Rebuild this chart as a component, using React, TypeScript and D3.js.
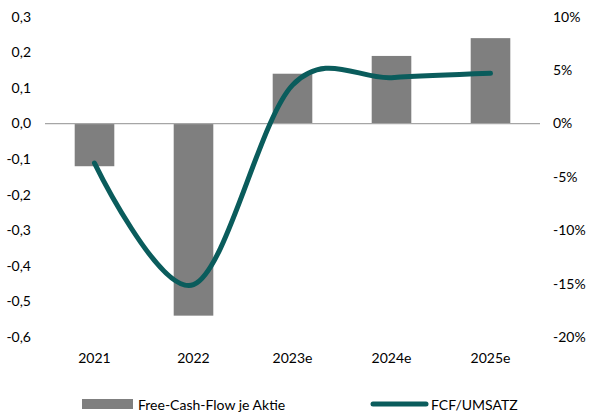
import React from "react";
import * as d3 from "d3";

const categories = ["2021", "2022", "2023e", "2024e", "2025e"];
const fcfPerShare = [-0.12, -0.54, 0.14, 0.19, 0.24];
const fcfToSales = [-0.037, -0.151, 0.036, 0.043, 0.047];
const leftTicks = [0.3, 0.2, 0.1, 0.0, -0.1, -0.2, -0.3, -0.4, -0.5, -0.6];
const rightTicks = [0.1, 0.05, 0, -0.05, -0.1, -0.15, -0.2];
const seriesNames = ["Free-Cash-Flow je Aktie", "FCF/UMSATZ"];

const W = 589;
const H = 416;
const FONT = "Lato, 'Liberation Sans', sans-serif";
const FS = 14;
const BAR = "#7f7f7f";
const LINE = "#0a5c5c";

export default function App() {
  const x = d3.scaleBand<string>().domain(categories).range([45, 540]).paddingInner(0.6).paddingOuter(0.3);
  const yL = d3.scaleLinear().domain([-0.6, 0.3]).range([337, 16.8]);
  const yR = d3.scaleLinear().domain([-0.2, 0.1]).range([337, 16.8]);
  const cx = (c: string) => (x(c) as number) + x.bandwidth() / 2;
  const line = d3
    .line<number>()
    .x((_, i) => cx(categories[i]))
    .y((d) => yR(d))
    .curve(d3.curveCardinal.tension(0));
  const fmtL = (v: number) => v.toFixed(1).replace(".", ",");
  const fmtR = (v: number) => `${Math.round(v * 100)}%`;

  return (
    <svg width={W} height={H} style={{ position: "absolute", left: 0, top: 0, background: "#fff" }}>
      {categories.map((c, i) => {
        const v = fcfPerShare[i];
        return (
          <rect
            key={c}
            x={x(c)}
            y={yL(Math.max(0, v))}
            width={x.bandwidth()}
            height={Math.abs(yL(v) - yL(0))}
            fill={BAR}
          />
        );
      })}
      <line x1={45} x2={540} y1={yL(0)} y2={yL(0)} stroke="#a6a6a6" strokeWidth={1.3} />
      <path d={line(fcfToSales) || ""} fill="none" stroke={LINE} strokeWidth={5} strokeLinecap="round" />
      {leftTicks.map((t) => (
        <text key={t} x={31} y={yL(t)} dy="0.35em" textAnchor="end" fontFamily={FONT} fontSize={FS} fill="#000">
          {fmtL(t)}
        </text>
      ))}
      {rightTicks.map((t) => (
        <text key={t} x={553} y={yR(t)} dy="0.35em" textAnchor="start" fontFamily={FONT} fontSize={FS} fill="#000">
          {fmtR(t)}
        </text>
      ))}
      {categories.map((c) => (
        <text key={c} x={cx(c)} y={358} dy="0.35em" textAnchor="middle" fontFamily={FONT} fontSize={FS} fill="#000">
          {c}
        </text>
      ))}
      <rect x={82} y={399} width={51} height={10} fill={BAR} />
      <text x={138} y={405} dy="0.35em" fontFamily={FONT} fontSize={FS} fill="#000">
        {seriesNames[0]}
      </text>
      <line x1={373} x2={426} y1={404} y2={404} stroke={LINE} strokeWidth={5} strokeLinecap="round" />
      <text x={431} y={405} dy="0.35em" fontFamily={FONT} fontSize={FS} fill="#000">
        {seriesNames[1]}
      </text>
    </svg>
  );
}
